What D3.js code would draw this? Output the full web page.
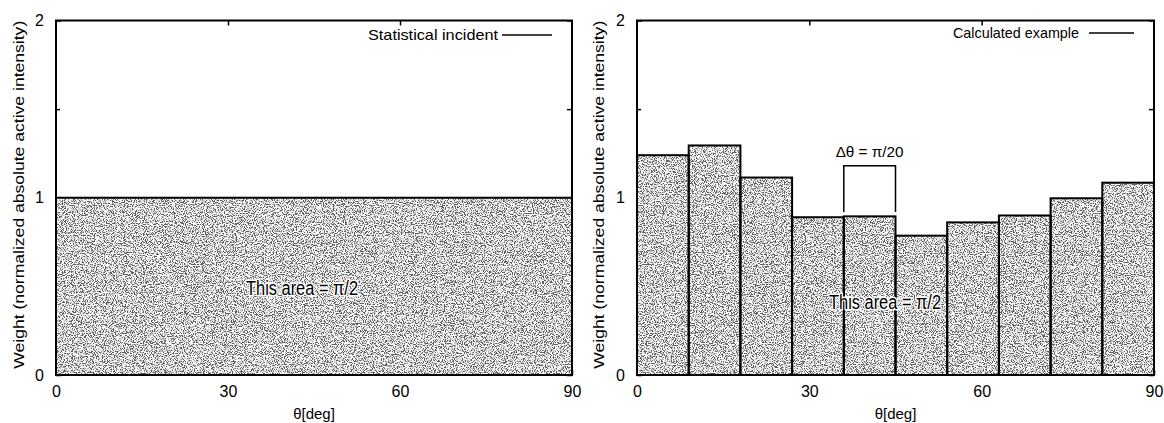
<!DOCTYPE html>
<html>
<head>
<meta charset="utf-8">
<script src="https://cdn.jsdelivr.net/npm/d3@7"></script>
<style>
  body { margin: 0; background: #fff; }
  text { font-family: "Liberation Sans", Arial, Helvetica, sans-serif; fill: #000; }
</style>
</head>
<body>
<div class="canvas"></div>
<script>
// Data
// Left panel: one flat bin over the whole range
const statisticalStart = [0];
const statisticalEnd = [90];
const statisticalWeight = [1.0];

// Right panel: ten bins of pi/20 (9 deg)
const calculatedStart = [0, 9, 18, 27, 36, 45, 54, 63, 72, 81];
const calculatedEnd = [9, 18, 27, 36, 45, 54, 63, 72, 81, 90];
const calculatedWeight = [1.24, 1.295, 1.114, 0.89, 0.895, 0.786, 0.861, 0.9, 0.997, 1.085];

const xTicks = [0, 30, 60, 90];
const yTicks = [0, 1, 2];
const yMinorTicks = [0.5, 1.5];
const legendLabels = ["Statistical incident", "Calculated example"];
const areaLabel = "This area = \u03c0/2";
const yLabel = "Weight (normalized absolute active intensity)";
const xLabel = "\u03b8[deg]";
// bracket over the 5th bin of the right panel
const bracketFrom = 36, bracketTo = 45, bracketTop = 1.18, bracketBottom = 0.92;
const bracketLabel = "\u0394\u03b8 = \u03c0/20";

const width = 1164, height = 423;
const svg = d3.select(".canvas")
    .append("svg")
    .attr("width", width)
    .attr("height", height);

// Grainy halftone-like fill, like the scanned original
const defs = svg.append("defs");
const grain = defs.append("filter")
    .attr("id", "grain")
    .attr("x", 0).attr("y", 0).attr("width", 1).attr("height", 1);
grain.append("feTurbulence")
    .attr("type", "fractalNoise")
    .attr("baseFrequency", 0.9)
    .attr("numOctaves", 2)
    .attr("seed", 7)
    .attr("result", "noise");
grain.append("feColorMatrix")
    .attr("type", "matrix")
    .attr("values", "1 0 0 0 0  1 0 0 0 0  1 0 0 0 0  0 0 0 0 1");
const stretch = grain.append("feComponentTransfer");
["R", "G", "B"].forEach(c => stretch.append("feFunc" + c)
    .attr("type", "linear").attr("slope", 3.2).attr("intercept", -1.15));
const levels = grain.append("feComponentTransfer");
["R", "G", "B"].forEach(c => levels.append("feFunc" + c)
    .attr("type", "discrete").attr("tableValues", "0.12 0.45 0.78 1 1"));
grain.append("feComposite")
    .attr("in2", "SourceGraphic")
    .attr("operator", "in");

const panels = [
    { left: 56, right: 572, starts: statisticalStart, ends: statisticalEnd, values: statisticalWeight,
      legend: legendLabels[0], legendEnd: 498, legendWidth: 130, legendLine: [502, 552], legendY: 35,
      areaX: 302, areaY: 295, yLabelX: 19, bracket: false },
    { left: 637, right: 1154, starts: calculatedStart, ends: calculatedEnd, values: calculatedWeight,
      legend: legendLabels[1], legendEnd: 1079, legendWidth: 126, legendLine: [1089, 1134], legendY: 33,
      areaX: 885, areaY: 309, yLabelX: 599, bracket: true }
];
const plotTop = 20.5, plotBottom = 375;

panels.forEach(p => {
    const x = d3.scaleLinear().domain([0, 90]).range([p.left, p.right]);
    const y = d3.scaleLinear().domain([0, 2]).range([plotBottom, plotTop]);
    const g = svg.append("g");

    // Ticks (inward, mirrored on all sides)
    const axes = g.append("g").attr("class", "axes");
    axes.append("g")
        .attr("transform", `translate(0, ${plotBottom})`)
        .call(d3.axisBottom(x).tickValues(xTicks).tickSizeInner(-5).tickSizeOuter(0).tickPadding(11));
    axes.append("g")
        .attr("transform", `translate(0, ${plotTop})`)
        .call(d3.axisTop(x).tickValues(xTicks.slice(1, -1)).tickSizeInner(-5).tickSizeOuter(0).tickFormat(""));
    axes.append("g")
        .attr("transform", `translate(${p.left}, 0)`)
        .call(d3.axisLeft(y).tickValues(yTicks).tickFormat(d3.format("d"))
            .tickSizeInner(-5).tickSizeOuter(0).tickPadding(12));
    axes.append("g")
        .attr("transform", `translate(${p.left}, 0)`)
        .call(d3.axisLeft(y).tickValues(yMinorTicks).tickSizeInner(-4).tickSizeOuter(0).tickFormat(""));
    axes.append("g")
        .attr("transform", `translate(${p.right}, 0)`)
        .call(d3.axisRight(y).tickValues(yTicks.concat(yMinorTicks)).tickSizeInner(-5).tickSizeOuter(0).tickFormat(""));
    axes.selectAll(".domain").remove();
    axes.selectAll(".tick line").attr("stroke", "#000").attr("stroke-width", 1.5);
    axes.selectAll(".tick text")
        .style("font-size", "16px")
        .style("font-family", "'Liberation Sans', Arial, sans-serif")
        .attr("fill", "#000");

    // Bars: grainy fill, then black outline
    const bins = p.values.map((v, i) => ({ start: p.starts[i], end: p.ends[i], value: v }));
    g.append("g").selectAll("rect")
        .data(bins)
        .enter()
        .append("rect")
        .attr("x", d => x(d.start))
        .attr("y", d => y(d.value))
        .attr("width", d => x(d.end) - x(d.start))
        .attr("height", d => plotBottom - y(d.value))
        .attr("fill", "#fff")
        .attr("filter", "url(#grain)");
    g.append("g").selectAll("rect")
        .data(bins)
        .enter()
        .append("rect")
        .attr("x", d => x(d.start))
        .attr("y", d => y(d.value))
        .attr("width", d => x(d.end) - x(d.start))
        .attr("height", d => plotBottom - y(d.value))
        .attr("fill", "none")
        .attr("stroke", "#000")
        .attr("stroke-width", 2);

    // Plot frame
    g.append("rect")
        .attr("x", p.left).attr("y", plotTop)
        .attr("width", p.right - p.left).attr("height", plotBottom - plotTop)
        .attr("fill", "none")
        .attr("stroke", "#000")
        .attr("stroke-width", 2);

    // Legend
    g.append("text")
        .attr("x", p.legendEnd).attr("y", p.legendY + 5)
        .attr("text-anchor", "end")
        .attr("textLength", p.legendWidth)
        .attr("lengthAdjust", "spacingAndGlyphs")
        .style("font-size", "15px")
        .text(p.legend);
    g.append("line")
        .attr("x1", p.legendLine[0]).attr("x2", p.legendLine[1])
        .attr("y1", p.legendY).attr("y2", p.legendY)
        .attr("stroke", "#000").attr("stroke-width", 1.5);

    // Area note with a white halo over the grain
    g.append("text")
        .attr("x", p.areaX).attr("y", p.areaY)
        .attr("text-anchor", "middle")
        .attr("textLength", 112)
        .attr("lengthAdjust", "spacingAndGlyphs")
        .style("font-size", "20px")
        .attr("stroke", "#fff").attr("stroke-width", 3)
        .attr("paint-order", "stroke")
        .attr("stroke-linejoin", "round")
        .text(areaLabel);

    // Axis titles
    g.append("text")
        .attr("transform", `translate(${p.yLabelX}, ${(plotTop + plotBottom) / 2 - 3}) rotate(-90)`)
        .attr("text-anchor", "middle")
        .attr("dy", "0.35em")
        .attr("textLength", 348)
        .attr("lengthAdjust", "spacingAndGlyphs")
        .style("font-size", "15px")
        .text(yLabel);
    g.append("text")
        .attr("x", (p.left + p.right) / 2).attr("y", 419)
        .attr("text-anchor", "middle")
        .style("font-size", "15px")
        .text(xLabel);

    if (p.bracket) {
        const path = d3.path();
        path.moveTo(x(bracketFrom), y(bracketBottom));
        path.lineTo(x(bracketFrom), y(bracketTop));
        path.lineTo(x(bracketTo), y(bracketTop));
        path.lineTo(x(bracketTo), y(bracketBottom));
        g.append("path")
            .attr("d", path.toString())
            .attr("fill", "none")
            .attr("stroke", "#000")
            .attr("stroke-width", 1.5);
        g.append("text")
            .attr("x", (x(bracketFrom) + x(bracketTo)) / 2)
            .attr("y", y(bracketTop) - 9)
            .attr("text-anchor", "middle")
            .attr("textLength", 68)
            .attr("lengthAdjust", "spacingAndGlyphs")
            .style("font-size", "14px")
            .text(bracketLabel);
    }
});
</script>
</body>
</html>
